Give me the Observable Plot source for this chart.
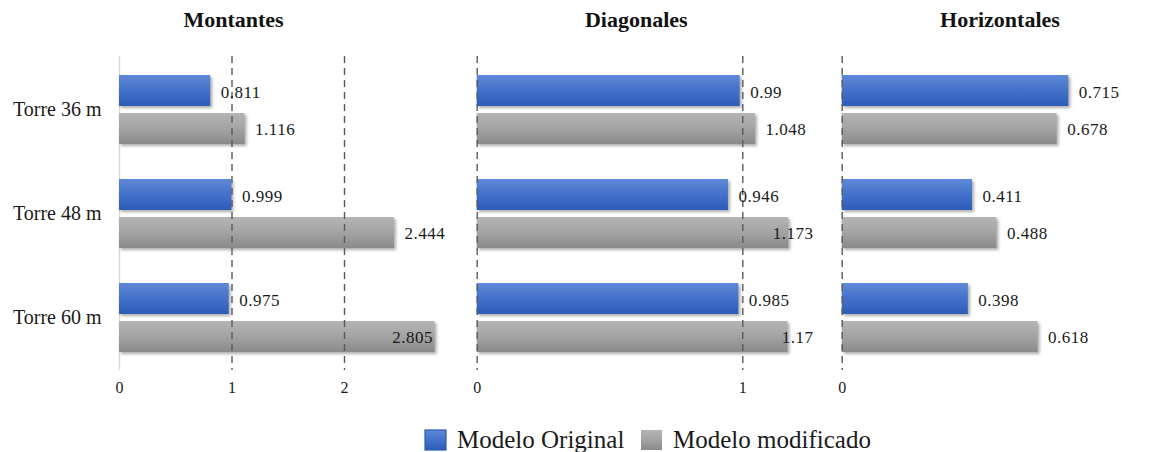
<!DOCTYPE html>
<html>
<head>
<meta charset="utf-8">
<script src="https://cdn.jsdelivr.net/npm/d3@7"></script>
<script src="https://cdn.jsdelivr.net/npm/@observablehq/plot@0.6"></script>
<style>
  body { margin: 0; background: #fff; }
  #chart { position: relative; width: 1156px; height: 452px; overflow: hidden;
           font-family: "Liberation Serif", "Times New Roman", serif; color: #1a1a1a; }
  #chart .panel { position: absolute; top: 0; }
  #chart .overlay { position: absolute; left: 0; top: 0; pointer-events: none; }
  #chart g[aria-label="bar"] rect { filter: drop-shadow(2px 2px 1.5px rgba(0,0,0,0.32)); }
  #chart .value-label text { letter-spacing: 0.5px; }
</style>
</head>
<body>
<div id="chart"></div>
<script>
// Ratio per tower and element group, original vs. modified model
const torres = ["Torre 36 m", "Torre 48 m", "Torre 60 m"];
const series = ["Modelo Original", "Modelo modificado"];
const panelTitles = ["Montantes", "Diagonales", "Horizontales"];

const montantesOriginal = [0.811, 0.999, 0.975];
const montantesModificado = [1.116, 2.444, 2.805];
const diagonalesOriginal = [0.99, 0.946, 0.985];
const diagonalesModificado = [1.048, 1.173, 1.17];
const horizontalesOriginal = [0.715, 0.411, 0.398];
const horizontalesModificado = [0.678, 0.488, 0.618];

const montantesTicks = [0, 1, 2];
const diagonalesTicks = [0, 1];
const horizontalesTicks = [0];

// Layout of the three small multiples (pixels), each with its own x scale
const panels = [
  {title: panelTitles[0], original: montantesOriginal, modificado: montantesModificado, ticks: montantesTicks,
   left: 0, width: 460, zero: 119, unit: 112.5, max: 2.9, solidZero: true, overflow: "inside", yAxis: true, titleX: 233.5},
  {title: panelTitles[1], original: diagonalesOriginal, modificado: diagonalesModificado, ticks: diagonalesTicks,
   left: 460, width: 360, zero: 16.7, unit: 265.6, max: 1.266, solidZero: false, overflow: "clamp", yAxis: false, titleX: 636.3},
  {title: panelTitles[2], original: horizontalesOriginal, modificado: horizontalesModificado, ticks: horizontalesTicks,
   left: 820, width: 336, zero: 21.7, unit: 317, max: 0.9, solidZero: false, overflow: "clamp", yAxis: false, titleX: 1000}
];

const fills = ["url(#gradOriginal)", "url(#gradModificado)"];
const chart = document.getElementById("chart");

// Shared gradient definitions for the bars and legend swatches
const defsSvg = d3.create("svg").attr("width", 0).attr("height", 0).style("position", "absolute");
const defs = defsSvg.append("defs");
function vGradient(id, stops) {
  const g = defs.append("linearGradient").attr("id", id).attr("x1", 0).attr("y1", 0).attr("x2", 0).attr("y2", 1);
  stops.forEach(([o, c]) => g.append("stop").attr("offset", o).attr("stop-color", c));
}
vGradient("gradOriginal", [["0%", "#6089d6"], ["45%", "#4674cb"], ["100%", "#2c5bb9"]]);
vGradient("gradModificado", [["0%", "#b5b5b5"], ["50%", "#a3a3a3"], ["100%", "#8a8a8a"]]);
chart.appendChild(defsSvg.node());

const BAND_INSET = 38;   // each bar covers 31px of a 69px band
const LABEL_W = 40, LABEL_GAP = 10;

function drawPanel(p) {
  const rows = torres.map((t, i) => ({torre: t, original: p.original[i], modificado: p.modificado[i]}));
  const right = p.zero + p.max * p.unit;

  // value labels: outside the bar end, or pulled back when they would leave the frame
  const labels = [];
  ["original", "modificado"].forEach((key, s) => {
    rows.forEach(r => {
      const v = r[key];
      const endPx = p.zero + v * p.unit;
      let lx, anchor;
      if (endPx + LABEL_GAP + LABEL_W <= right) { lx = v + LABEL_GAP / p.unit; anchor = "start"; }
      else if (p.overflow === "inside") { lx = v - 2 / p.unit; anchor = "end"; }
      else { lx = p.max; anchor = "end"; }
      labels.push({torre: r.torre, s, lx, anchor, text: String(v)});
    });
  });

  const marks = [];
  if (p.solidZero) marks.push(Plot.ruleX([0], {stroke: "#d9d9d9", strokeWidth: 1.5}));
  marks.push(
    Plot.barX(rows, {x: "original", y: "torre", fill: fills[0], insetBottom: BAND_INSET}),
    Plot.barX(rows, {x: "modificado", y: "torre", fill: fills[1], insetTop: BAND_INSET}),
    Plot.ruleX(p.ticks.filter(t => !(p.solidZero && t === 0)),
               {stroke: "#5a5a5a", strokeWidth: 1.4, strokeDasharray: "7,5"})
  );
  [0, 1].forEach(s => {
    ["start", "end"].forEach(anchor => {
      const subset = labels.filter(d => d.s === s && d.anchor === anchor);
      if (subset.length) marks.push(Plot.text(subset, {
        x: "lx", y: "torre", text: "text", textAnchor: anchor,
        dy: s === 0 ? -17 : 20, fontSize: 17, fill: "#1a1a1a", className: "value-label"
      }));
    });
  });
  // x tick labels below the frame
  marks.push(Plot.text(p.ticks, {x: d => d, text: d => String(d), frameAnchor: "bottom",
                                 dy: 22, fontSize: 16, fill: "#1a1a1a"}));
  if (p.yAxis) marks.push(Plot.axisY({tickSize: 0, tickPadding: 18, fontSize: 20}));

  const svg = Plot.plot({
    width: p.width,
    height: 410,
    marginLeft: p.zero,
    marginRight: p.width - right,
    marginTop: 56,
    marginBottom: 40,
    x: {domain: [0, p.max], axis: null},
    y: {domain: torres, paddingInner: 0.341, paddingOuter: 0.17, axis: p.yAxis ? undefined : null, label: null},
    style: {fontFamily: "'Liberation Serif', 'Times New Roman', serif", color: "#1a1a1a", background: "transparent", overflow: "visible"},
    marks
  });
  const wrap = document.createElement("div");
  wrap.className = "panel";
  wrap.style.left = p.left + "px";
  wrap.appendChild(svg);
  chart.appendChild(wrap);
}

panels.forEach(drawPanel);

// Panel titles and the legend
const overlay = d3.create("svg").attr("class", "overlay").attr("width", 1156).attr("height", 452)
  .style("font-family", "'Liberation Serif', 'Times New Roman', serif");
overlay.selectAll("text.title").data(panels).join("text")
  .attr("class", "title")
  .attr("x", d => d.titleX).attr("y", 27)
  .attr("text-anchor", "middle").attr("font-weight", "bold").attr("font-size", 22)
  .attr("fill", "#111").text(d => d.title);

const legendItems = [
  {label: series[0], fill: fills[0], x: 425, stroke: "#2a5db8"},
  {label: series[1], fill: fills[1], x: 641, stroke: "none"}
];
const lg = overlay.append("g");
lg.selectAll("rect").data(legendItems).join("rect")
  .attr("x", d => d.x).attr("y", 430).attr("width", 21).attr("height", 20)
  .attr("fill", d => d.fill).attr("stroke", d => d.stroke).attr("stroke-width", 1.2);
lg.selectAll("text").data(legendItems).join("text")
  .attr("x", d => d.x + 32).attr("y", 448)
  .attr("font-size", 25).attr("fill", "#1a1a1a").text(d => d.label);
chart.appendChild(overlay.node());
</script>
</body>
</html>
